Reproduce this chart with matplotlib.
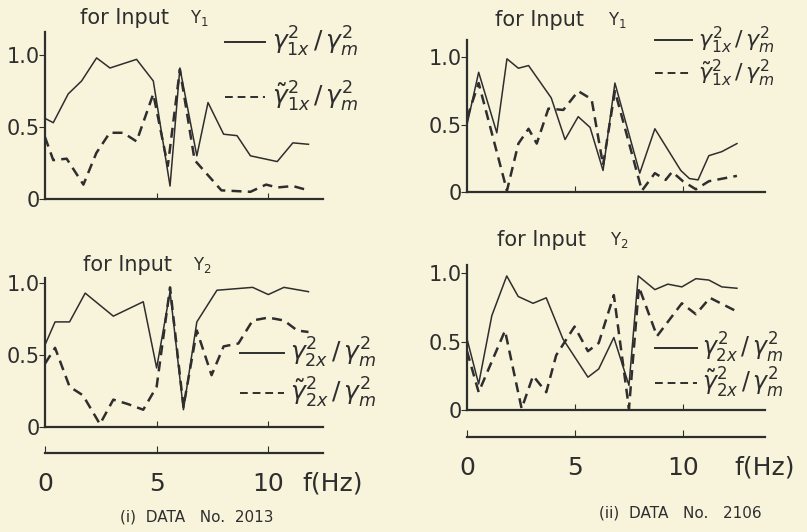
import matplotlib
matplotlib.use("Agg")
import matplotlib.pyplot as plt
from matplotlib.lines import Line2D

# ---- data ----
# (i) DATA No. 2013, input Y1
f_a1 = [0, 0.37, 1.04, 1.64, 2.31, 2.91, 4.1, 4.85, 5.6, 6.04, 6.8, 7.3, 8.0, 8.6, 9.2, 10.4, 11.1, 11.8]
g_a1 = [0.56, 0.53, 0.73, 0.82, 0.98, 0.91, 0.97, 0.82, 0.09, 0.91, 0.30, 0.67, 0.45, 0.44, 0.30, 0.26, 0.39, 0.38]
ft_a1 = [0, 0.37, 0.97, 1.72, 2.3, 2.9, 3.5, 4.1, 4.85, 5.5, 6.04, 6.7, 7.9, 9.2, 9.9, 10.4, 11.1, 11.8]
gt_a1 = [0.43, 0.27, 0.28, 0.10, 0.32, 0.46, 0.46, 0.40, 0.73, 0.23, 0.90, 0.27, 0.06, 0.05, 0.10, 0.08, 0.09, 0.06]

# (i) DATA No. 2013, input Y2
f_a2 = [0, 0.45, 1.1, 1.8, 3.06, 4.4, 5.0, 5.6, 6.2, 6.8, 7.7, 9.3, 10.0, 10.7, 11.8]
g_a2 = [0.57, 0.73, 0.73, 0.93, 0.77, 0.87, 0.41, 0.94, 0.12, 0.73, 0.95, 0.97, 0.92, 0.97, 0.94]
ft_a2 = [0, 0.45, 1.1, 1.7, 2.46, 3.06, 3.7, 4.4, 5.0, 5.6, 6.2, 6.8, 7.46, 8.0, 8.66, 9.3, 10.0, 10.7, 11.3, 11.8]
gt_a2 = [0.44, 0.55, 0.28, 0.22, 0.02, 0.19, 0.16, 0.12, 0.28, 0.97, 0.14, 0.67, 0.36, 0.56, 0.58, 0.74, 0.76, 0.74, 0.67, 0.66]

# (ii) DATA No. 2106, input Y1
f_b1 = [0, 0.54, 1.38, 1.85, 2.38, 2.85, 3.9, 4.54, 5.15, 5.7, 6.3, 6.85, 8.0, 8.7, 9.9, 10.3, 10.7, 11.2, 11.8, 12.5]
g_b1 = [0.50, 0.89, 0.44, 0.99, 0.92, 0.94, 0.70, 0.39, 0.56, 0.48, 0.16, 0.81, 0.14, 0.47, 0.16, 0.10, 0.09, 0.27, 0.30, 0.36]
ft_b1 = [0, 0.54, 1.85, 2.38, 2.85, 3.23, 3.77, 4.46, 5.15, 5.77, 6.3, 6.85, 8.1, 8.7, 9.2, 9.5, 10.0, 10.6, 11.2, 12.5]
gt_b1 = [0.55, 0.81, 0.01, 0.36, 0.47, 0.36, 0.62, 0.61, 0.75, 0.69, 0.20, 0.75, 0.01, 0.14, 0.09, 0.15, 0.08, 0.02, 0.08, 0.12]

# (ii) DATA No. 2106, input Y2
f_b2 = [0, 0.54, 1.15, 1.84, 2.37, 3.06, 3.67, 4.44, 5.6, 6.1, 6.8, 7.5, 7.93, 8.7, 9.3, 9.95, 10.6, 11.2, 11.8, 12.5]
g_b2 = [0.52, 0.19, 0.69, 0.98, 0.83, 0.78, 0.82, 0.52, 0.24, 0.30, 0.53, 0.18, 0.98, 0.88, 0.92, 0.90, 0.96, 0.95, 0.90, 0.89]
ft_b2 = [0, 0.54, 1.76, 2.53, 3.06, 3.67, 4.13, 4.98, 5.6, 6.1, 6.8, 7.5, 7.96, 8.8, 9.95, 10.6, 11.25, 12.5]
gt_b2 = [0.43, 0.13, 0.58, 0.01, 0.25, 0.13, 0.40, 0.61, 0.43, 0.49, 0.84, 0.01, 0.90, 0.54, 0.78, 0.70, 0.82, 0.72]

xticks_hz = [0, 5, 10]
yticks = [0, 0.5, 1.0]
ytick_labels = ["0", "0.5", "1.0"]

W, H = 807, 532
BG = "#f8f4dc"
INK = "#2e2e2e"

fig = plt.figure(figsize=(W / 100, H / 100), dpi=100, facecolor=BG)
plt.rcParams["mathtext.fontset"] = "dejavusans"


def rect(x0, y_zero, x1, y_top):
    # pixel box -> figure fraction box
    return [x0 / W, 1 - y_zero / H, (x1 - x0) / W, (y_zero - y_top) / H]


def ptxt(x, y, s, **kw):
    kw.setdefault("color", INK)
    fig.text(x / W, 1 - y / H, s, **kw)


def pline(x0, x1, y, ls):
    fig.add_artist(Line2D([x0 / W, x1 / W], [1 - y / H, 1 - y / H],
                          color=INK, lw=1.4, ls=ls, transform=fig.transFigure))


def panel(box, xmax, ymax, f, g, ft, gt):
    ax = fig.add_axes(box)
    ax.set_facecolor("none")
    ax.plot(f, g, color=INK, lw=1.1)
    ax.plot(ft, gt, color=INK, lw=1.8, ls=(0, (4, 2.5)))
    ax.set_xlim(0, xmax)
    ax.set_ylim(0, ymax)
    for s in ["top", "right"]:
        ax.spines[s].set_visible(False)
    for s in ["left", "bottom"]:
        ax.spines[s].set_color(INK)
        ax.spines[s].set_linewidth(1.6)
    ax.set_xticks([5, 10])
    ax.set_xticklabels([])
    ax.tick_params(axis="x", direction="in", length=4, color=INK)
    ax.set_yticks(yticks)
    ax.set_yticklabels(ytick_labels, fontsize=15, color=INK)
    ax.tick_params(axis="y", direction="out", length=4, pad=0, color=INK)
    return ax


def freq_axis(box, xmax, label_x, label_y):
    ax = fig.add_axes(box)
    ax.set_facecolor("none")
    ax.set_xlim(0, xmax)
    ax.set_yticks([])
    for s in ["top", "right", "left"]:
        ax.spines[s].set_visible(False)
    ax.spines["bottom"].set_color(INK)
    ax.spines["bottom"].set_linewidth(1.6)
    ax.set_xticks(xticks_hz)
    ax.set_xticklabels([str(v) for v in xticks_hz], fontsize=18, color=INK)
    ax.tick_params(axis="x", direction="in", length=5, pad=14, color=INK)
    ptxt(label_x, label_y, "f(Hz)", fontsize=18, ha="center", va="center")


# left column: 0 Hz at x=45 px, 22.3 px per Hz
panel(rect(45, 199, 323, 32), 12.45, 1.16, f_a1, g_a1, ft_a1, gt_a1)
panel(rect(45, 427, 323, 278), 12.45, 1.035, f_a2, g_a2, ft_a2, gt_a2)
freq_axis(rect(45, 453, 323, 443), 12.45, 333, 484)

# right column: 0 Hz at x=467 px, 21.6 px per Hz
panel(rect(467, 192, 765, 40), 13.8, 1.13, f_b1, g_b1, ft_b1, gt_b1)
panel(rect(467, 410, 765, 265), 13.8, 1.06, f_b2, g_b2, ft_b2, gt_b2)
freq_axis(rect(467, 437, 765, 427), 13.8, 765, 467)

# titles
ptxt(80, 18, "for Input", fontsize=15, va="center")
ptxt(190, 18, r"$\mathrm{Y_1}$", fontsize=12, va="center")
ptxt(83, 265, "for Input", fontsize=15, va="center")
ptxt(193, 265, r"$\mathrm{Y_2}$", fontsize=12, va="center")
ptxt(495, 20, "for Input", fontsize=15, va="center")
ptxt(608, 20, r"$\mathrm{Y_1}$", fontsize=12, va="center")
ptxt(497, 240, "for Input", fontsize=15, va="center")
ptxt(610, 240, r"$\mathrm{Y_2}$", fontsize=12, va="center")

# hand-drawn style legends
lab1 = r"$\gamma^2_{1x}\,/\,\gamma^2_m$"
lab1t = r"$\tilde{\gamma}^2_{1x}\,/\,\gamma^2_m$"
lab2 = r"$\gamma^2_{2x}\,/\,\gamma^2_m$"
lab2t = r"$\tilde{\gamma}^2_{2x}\,/\,\gamma^2_m$"

for (xs, xe, xt, y1, y2, la, lb, fs) in [
    (225, 265, 272, 42, 97, lab1, lab1t, 18),
    (240, 284, 290, 353, 393, lab2, lab2t, 18),
    (655, 692, 698, 40, 73, lab1, lab1t, 16),
    (655, 697, 702, 348, 383, lab2, lab2t, 17),
]:
    pline(xs, xe, y1, "-")
    pline(xs, xe, y2, (0, (4, 2.5)))
    ptxt(xt, y1, la, fontsize=fs, va="center")
    ptxt(xt, y2, lb, fontsize=fs, va="center")

# captions
ptxt(197, 517, "(i)  DATA   No.  2013", fontsize=11, ha="center", va="center")
ptxt(680, 513, "(ii)  DATA   No.   2106", fontsize=11, ha="center", va="center")

fig.savefig("out.png", dpi=100, facecolor=BG)
